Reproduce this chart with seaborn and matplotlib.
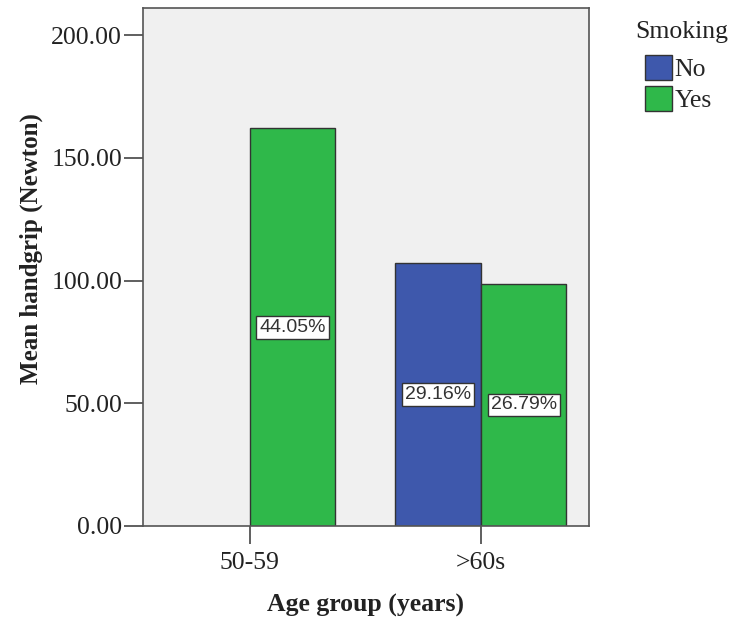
import matplotlib
matplotlib.use("Agg")
import matplotlib.pyplot as plt
import seaborn as sns
import pandas as pd

# data
age_groups = ["50-59", ">60s", ">60s"]
smoking = ["Yes", "No", "Yes"]
mean_handgrip = [162.0, 107.2, 98.6]
pct_labels = ["44.05%", "29.16%", "26.79%"]
age_order = ["50-59", ">60s"]
hue_order = ["No", "Yes"]
colors = {"No": "#3E58AC", "Yes": "#2FB84A"}

df = pd.DataFrame({"age": age_groups, "smoking": smoking,
                   "value": mean_handgrip, "pct": pct_labels})

sns.set_style("ticks")
plt.rcParams["font.family"] = ["Liberation Serif", "DejaVu Serif"]

fig = plt.figure(figsize=(7.31, 6.18), dpi=100)
ax = fig.add_axes([0.1956, 0.1489, 0.8057 - 0.1956, 0.987 - 0.1489])
ax.set_facecolor("#F0F0F0")

sns.barplot(data=df, x="age", y="value", hue="smoking", order=age_order,
            hue_order=hue_order, palette=colors, width=0.74, dodge=True,
            saturation=1, edgecolor="#333333", linewidth=1.0, errorbar=None,
            ax=ax, legend=True)

for level, cont in zip(hue_order, ax.containers):
    sub = df[df["smoking"] == level].set_index("age").reindex(age_order).dropna()
    labels = list(sub["pct"])
    txts = ax.bar_label(cont, labels=labels, label_type="center",
                        fontsize=14, family="Liberation Sans", color="#333333")
    for t in txts:
        t.set_bbox(dict(facecolor="white", edgecolor="#333333",
                        boxstyle="square,pad=0.15", linewidth=1.0))

ax.set_ylim(0, 211)
ax.set_xlim(-0.463, 1.468)
ax.set_yticks([0, 50, 100, 150, 200])
ax.set_yticklabels([f"{v:.2f}" for v in [0, 50, 100, 150, 200]])
ax.tick_params(axis="y", direction="out", length=14, width=1.2,
               color="#444444", labelsize=18.5, labelcolor="#222222", pad=1)
ax.tick_params(axis="x", direction="out", length=13, width=1.2,
               color="#444444", labelsize=18.5, labelcolor="#222222", pad=6)
for s in ax.spines.values():
    s.set_visible(True)
    s.set_color("#555555")
    s.set_linewidth(1.2)

ax.set_xlabel("Age group (years)", fontsize=18.5, fontweight="bold",
              color="#222222", labelpad=14)
ax.set_ylabel("Mean handgrip (Newton)", fontsize=18, fontweight="bold",
              color="#222222")
ax.yaxis.set_label_coords(-0.224, 0.535)

handles, lbls = ax.get_legend_handles_labels()
ax.get_legend().remove()
leg = fig.legend(handles, lbls, loc="upper left",
                 bbox_to_anchor=(645 / 731, 1 - 55 / 618), frameon=False,
                 fontsize=18.5, handlelength=1.05, handleheight=1.1,
                 handletextpad=0.1, labelspacing=0.2, borderpad=0,
                 borderaxespad=0)
for h in leg.legend_handles:
    h.set_edgecolor("#333333")
fig.text(635 / 731, 1 - 32 / 618, "Smoking", fontsize=18.5, color="#222222",
         ha="left", va="center")

fig.savefig("out.png", dpi=100)
